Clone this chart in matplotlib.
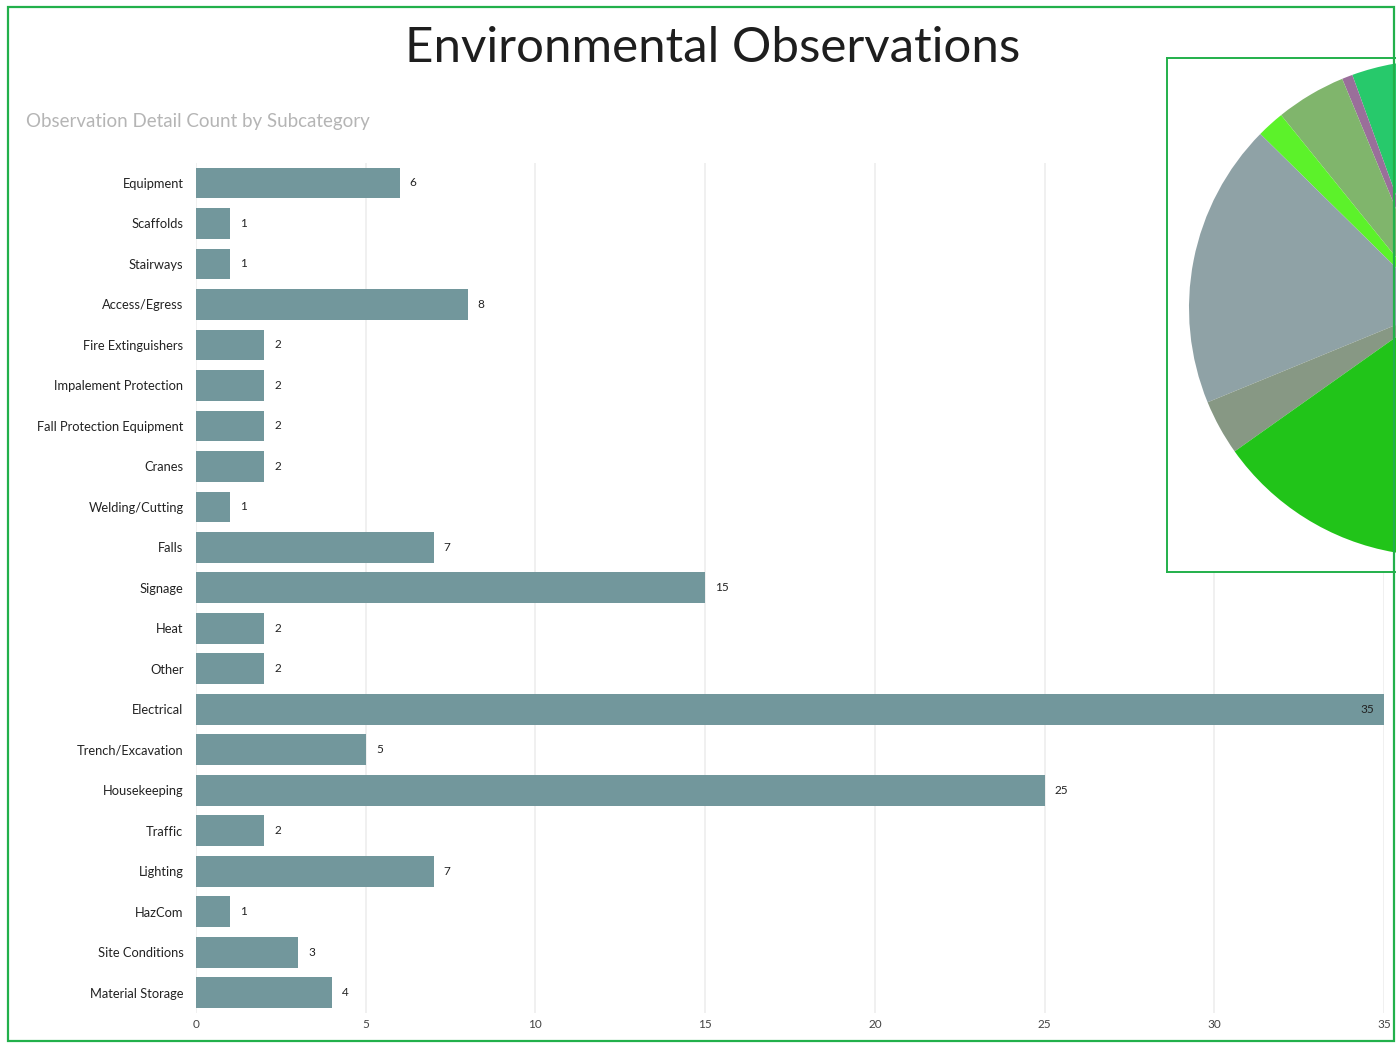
import numpy as np
import matplotlib
matplotlib.use("Agg")
import matplotlib.pyplot as plt
from matplotlib.patches import Rectangle

# bar chart data (top to bottom)
subcategories = ["Equipment", "Scaffolds", "Stairways", "Access/Egress", "Fire Extinguishers",
                 "Impalement Protection", "Fall Protection Equipment", "Cranes", "Welding/Cutting",
                 "Falls", "Signage", "Heat", "Other", "Electrical", "Trench/Excavation",
                 "Housekeeping", "Traffic", "Lighting", "HazCom", "Site Conditions", "Material Storage"]
counts = [6, 1, 1, 8, 2, 2, 2, 2, 1, 7, 15, 2, 2, 35, 5, 25, 2, 7, 1, 3, 4]
xticks = [0, 5, 10, 15, 20, 25, 30, 35]

# pie slices (degrees, counterclockwise from top), only the left part is visible
pie_values = [20, 2.5, 16.5, 6.5, 67, 13, 90, 60, 85]
pie_colors = ["#27c96b", "#9a6f9a", "#80b56c", "#5cf22a", "#8fa2a6", "#879884",
              "#21c419", "#3aa55a", "#6fbf8a"]

W, H = 1396, 1044
fig = plt.figure(figsize=(W / 100, H / 100), dpi=100)
fig.patch.set_facecolor("white")

green = "#22b04b"
fig.patches.append(Rectangle((8 / W, 3 / H), (1394 - 8) / W, (1037 - 3) / H,
                             transform=fig.transFigure, fill=False,
                             edgecolor=green, linewidth=1.6))

fig.text(713 / W, 1 - 48 / H, "Environmental Observations", ha="center", va="center",
         fontsize=35.5, family="Lato", color="#1e1e1e")
fig.text(26 / W, 1 - 121 / H, "Observation Detail Count by Subcategory", ha="left", va="center",
         fontsize=13.5, family="Lato", color="#b5b5b5")

# bar axes
left, right = 196 / W, 1384 / W
top, bottom = 1 - 162.75 / H, 1 - 1013 / H
ax = fig.add_axes([left, bottom, right - left, top - bottom])
y = np.arange(len(subcategories))
ax.barh(y, counts, height=0.76, color="#72979c", zorder=2)
ax.set_ylim(len(subcategories) - 0.5, -0.5)
ax.set_xlim(0, 35)
ax.set_yticks(y)
ax.set_yticklabels(subcategories, fontsize=9.3, family="Lato", color="#222222")
ax.set_xticks(xticks)
ax.set_xticklabels([str(t) for t in xticks], fontsize=8.5, family="Lato", color="#444444")
ax.tick_params(length=0, axis="y", pad=9)
ax.tick_params(length=0, axis="x", pad=4)
for s in ax.spines.values():
    s.set_visible(False)
ax.grid(axis="x", color="#eeeeee", linewidth=1.2, zorder=0)
ax.set_axisbelow(True)
for yi, c in zip(y, counts):
    if c >= 34:
        ax.text(c - 0.3, yi, str(c), ha="right", va="center", fontsize=8.5,
                family="Lato", color="#222222")
    else:
        ax.text(c + 0.3, yi, str(c), ha="left", va="center", fontsize=8.5,
                family="Lato", color="#222222")

# pie inset, cut off by the right edge of the image
px0, px1, py0, py1 = 1167, 1700, 58, 572
pax = fig.add_axes([px0 / W, 1 - py1 / H, (px1 - px0) / W, (py1 - py0) / H])
pax.set_facecolor("white")
pax.pie(pie_values, colors=pie_colors, startangle=90, counterclock=True,
        center=(1437, H - 308), radius=248, frame=True,
        wedgeprops=dict(linewidth=0))
pax.set_xlim(px0, px1)
pax.set_ylim(H - py1, H - py0)
pax.set_xticks([])
pax.set_yticks([])
for s in pax.spines.values():
    s.set_edgecolor(green)
    s.set_linewidth(1.4)

fig.savefig("out.png", dpi=100)
